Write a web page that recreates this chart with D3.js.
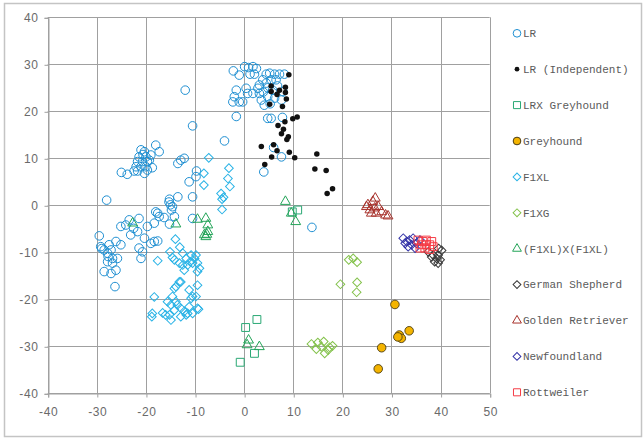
<!DOCTYPE html>
<html>
<head>
<meta charset="utf-8">
<script src="https://cdn.jsdelivr.net/npm/d3@7"></script>
<style>
  body { margin: 0; background: #fff; }
  svg { display: block; }
</style>
</head>
<body>
<div id="chart"></div>
<script>
// one array per series, [x, y]
var lr = [
  [-2.2,28.6],[-1.0,27.7],[0.1,29.5],[0.9,29.3],[1.8,29.5],[2.5,29.1],[1.2,27.9],[2.1,27.9],
  [4.5,27.9],[5.2,28.1],[6.2,27.9],[7.2,27.9],[8.2,27.9],[3.8,26.7],[3.1,25.6],[4.5,26.0],
  [5.5,26.7],[6.5,26.7],[-1.6,24.5],[0.4,24.9],[0.7,23.8],[-2.0,23.1],[-2.3,22.0],[-1.0,22.0],
  [-0.3,22.0],[1.8,23.8],[3.1,23.8],[3.5,22.4],[4.8,23.1],[6.2,22.8],[7.9,24.2],[7.6,22.4],
  [2.8,24.9],[3.9,24.1],[4.8,25.0],[5.8,24.5],[6.8,25.4],[5.3,21.6],[4.1,21.3],[-1.6,18.9],
  [4.8,18.5],[5.5,18.5],[7.8,18.7],[-4.0,13.7],[6.0,12.3],[7.6,10.3],[4.0,7.1],
  [-12.0,24.5],[-10.5,16.9],
  [-18.0,12.8],[-17.3,11.4],[-20.3,11.4],[-21.4,10.3],[-20.0,10.3],[-19.0,10.7],[-21.7,9.3],
  [-20.7,9.3],[-19.7,9.3],[-22.0,8.2],[-21.0,8.2],[-20.0,8.2],[-18.7,8.0],[-21.7,7.3],
  [-20.3,6.8],[-22.4,7.3],[-25.0,7.0],[-23.8,6.6],[-19.3,9.6],[-21.0,11.8],[-19.7,7.5],[-20.6,10.8],
  [-13.5,8.9],[-12.9,9.6],[-12.2,10.0],[-11.2,5.0],[-9.7,7.3],[-9.8,6.1],[-10.5,1.8],
  [-15.2,1.3],[-13.5,1.8],[-28.0,1.1],
  [-15.0,0.1],[-14.6,-0.3],[-15.3,0.7],[-14.8,-1.0],
  [-18.0,-1.4],[-17.3,-2.4],[-16.3,-2.6],[-14.2,-2.4],[-10.5,-2.8],[-21.4,-2.8],[-23.4,-3.1],
  [-25.1,-4.5],[-22.5,-4.9],[-24.1,-4.2],[-19.7,-4.5],[-18.3,-3.8],[-15.2,-4.0],[-29.5,-6.5],
  [-23.1,-6.3],[-21.7,-5.6],[-20.3,-7.0],[-18.3,-7.7],[-17.6,-7.6],[-19.0,-8.1],[-21.4,-9.1],
  [-20.7,-9.9],[-25.1,-8.4],[-26.1,-7.7],[-27.5,-8.4],[-29.2,-8.8],[-28.5,-9.5],[-27.8,-10.2],
  [-27.1,-9.5],[-27.7,-10.9],[-26.8,-11.3],[-25.8,-11.3],[-27.8,-12.0],[-26.8,-12.3],
  [-26.1,-13.8],[-28.5,-14.1],[-27.1,-14.5],[-26.3,-17.3],[-21.0,-11.3],[-29.0,-9.2],
  [-17.6,-1.7],
  [13.8,-4.7]
];

var lrIndependent = [
  [9.1,27.8],[5.5,25.4],[7.2,24.5],[8.4,25.1],[5.5,24.2],[6.7,23.6],[8.4,24.0],[8.6,22.6],
  [5.2,21.5],[7.8,21.0],[9.9,18.4],[10.8,18.8],[8.3,17.8],[6.9,17.0],[8.0,16.2],[7.6,15.2],
  [9.0,14.6],[8.7,14.0],[3.5,12.5],[6.0,12.9],[6.7,11.6],[9.2,11.3],[10.3,10.1],[5.6,10.3],
  [4.2,8.7],[14.8,10.9],[14.4,7.7],[16.7,7.4],[18.0,3.5],[16.9,2.5]
];

var lrxGreyhound = [
  [2.6,-24.3],[0.3,-26.0],[2.1,-31.5],[-0.8,-33.4],[10.9,-1.0],[9.8,-1.4]
];

var greyhound = [
  [30.7,-21.1],[33.6,-26.7],[31.6,-27.6],[32.0,-28.3],[31.3,-28.0],[28.0,-30.3],[27.3,-34.8]
];

var f1xl = [
  [-7.2,10.1],[-3.1,7.9],[-3.3,5.7],[-2.9,4.0],[-8.2,6.8],[-8.2,4.3],[-4.7,2.5],[-4.2,1.7],
  [-4.5,1.3],[-4.5,-0.9],
  [-14.0,-7.2],[-13.1,-8.9],[-15.1,-9.9],[-17.6,-11.8],[-14.6,-11.1],[-12.5,-10.2],[-11.8,-11.3],
  [-10.8,-10.6],[-10.1,-11.3],[-9.5,-12.3],[-10.5,-12.3],[-11.5,-12.7],[-12.5,-12.7],[-9.1,-13.4],
  [-12.2,-13.8],[-14.2,-11.6],[-13.2,-12.3],[-9.8,-10.6],[-11.0,-12.0],[-9.5,-14.1],
  [-12.9,-16.3],[-13.9,-17.3],[-9.5,-17.0],[-11.2,-18.0],[-10.5,-19.4],[-18.3,-19.5],[-14.6,-19.4],
  [-15.6,-20.5],[-13.9,-20.5],[-14.9,-21.2],[-13.6,-21.2],[-12.9,-21.9],[-14.2,-22.3],[-12.2,-22.6],
  [-16.6,-22.9],[-16.0,-23.3],[-11.2,-21.6],[-11.5,-23.0],[-18.7,-23.0],[-18.8,-23.7],[-9.5,-21.9],
  [-15.2,-23.3],[-14.9,-24.4],[-12.9,-23.7],[-10.5,-23.0],[-11.8,-23.3],[-9.3,-22.1],[-13.2,-16.3],
  [-14.2,-17.7],[-9.8,-19.4],[-10.8,-19.8]
];

var f1xg = [
  [21.3,-11.6],[22.2,-11.3],[23.0,-12.1],[19.6,-16.8],[23.0,-16.4],[22.9,-18.5],
  [13.7,-29.5],[15.0,-29.2],[16.2,-29.0],[14.7,-30.6],[15.7,-30.1],[16.4,-31.5],[17.1,-30.8],
  [18.0,-29.9],[17.4,-30.2]
];

var f1xlXf1xl = [
  [8.4,0.8],[9.6,-1.7],[10.5,-3.5],[0.9,-28.7],[0.6,-29.7],[3.1,-30.1],[-13.9,-4.0],[-22.7,-3.8],
  [-9.5,-3.0],[-7.8,-2.8],[-7.4,-4.2],[-8.1,-6.3],[-7.8,-6.7],[-7.4,-5.6],[-7.6,-6.2]
];

var germanShepherd = [
  [37.5,-9.9],[38.5,-10.6],[39.2,-11.3],[39.9,-11.6],[39.5,-12.3],[38.8,-12.0],[40.2,-9.6],
  [39.5,-10.6],[38.2,-11.0],[39.6,-9.2]
];

var goldenRetriever = [
  [25.2,0.1],[26.2,0.8],[26.7,1.5],[25.6,-1.0],[26.6,-0.6],[27.3,-0.3],[26.9,-1.7],[25.9,-1.7],
  [28.0,-1.4],[28.8,-2.1],[29.3,-2.3],[24.9,-0.3]
];

var newfoundland = [
  [32.4,-7.0],[33.1,-7.7],[33.7,-7.4],[34.4,-7.0],[32.8,-8.1],[34.1,-8.4],[35.1,-8.1],[34.8,-9.1],
  [33.4,-8.8],[35.8,-7.4]
];

var rottweiler = [
  [35.4,-7.4],[36.4,-7.7],[37.1,-7.4],[38.2,-7.7],[36.1,-8.4],[37.1,-8.4],[37.8,-8.4],[38.5,-8.8],
  [36.8,-9.1],[37.8,-9.4],[35.8,-9.1]
];

var xTicks = [-40, -30, -20, -10, 0, 10, 20, 30, 40, 50];
var yTicks = [-40, -30, -20, -10, 0, 10, 20, 30, 40];

var series = [
  { name: "LR", data: lr, shape: "circle", stroke: "#1e8fd2", fill: "none" },
  { name: "LR (Independent)", data: lrIndependent, shape: "dot", stroke: "none", fill: "#111" },
  { name: "LRX Greyhound", data: lrxGreyhound, shape: "square", stroke: "#2aa874", fill: "none" },
  { name: "Greyhound", data: greyhound, shape: "circle", stroke: "#4a3c14", fill: "#f4b400" },
  { name: "F1XL", data: f1xl, shape: "diamond", stroke: "#2ab3e6", fill: "none" },
  { name: "F1XG", data: f1xg, shape: "diamond", stroke: "#84c24c", fill: "none" },
  { name: "(F1XL)X(F1XL)", data: f1xlXf1xl, shape: "triangle", stroke: "#23a458", fill: "none" },
  { name: "German Shepherd", data: germanShepherd, shape: "diamond", stroke: "#3a3a3a", fill: "none" },
  { name: "Golden Retriever", data: goldenRetriever, shape: "triangle", stroke: "#a8322c", fill: "none" },
  { name: "Newfoundland", data: newfoundland, shape: "diamond", stroke: "#3535a8", fill: "none" },
  { name: "Rottweiler", data: rottweiler, shape: "square", stroke: "#f53c46", fill: "none" }
];

var width = 644;
var height = 440;

var x = d3.scaleLinear().domain([-40, 50]).range([47.7, 489.7]);
var y = d3.scaleLinear().domain([-40, 40]).range([393.3, 17.3]);

var svg = d3.select("#chart").append("svg")
  .attr("width", width)
  .attr("height", height);

// outer chart frame
svg.append("rect")
  .attr("x", 4.5).attr("y", 3.5)
  .attr("width", 637).attr("height", 433)
  .attr("fill", "#fff")
  .attr("stroke", "#c4c4c4")
  .attr("stroke-width", 1.5);

var grid = svg.append("g").attr("stroke", "#a0a0a0").attr("stroke-width", 1);

grid.selectAll("line.v").data(xTicks).enter().append("line")
  .attr("class", "v")
  .attr("x1", function (d) { return Math.round(x(d)) + 0.5; })
  .attr("x2", function (d) { return Math.round(x(d)) + 0.5; })
  .attr("y1", y(40)).attr("y2", y(-40));

grid.selectAll("line.h").data(yTicks).enter().append("line")
  .attr("class", "h")
  .attr("y1", function (d) { return Math.round(y(d)) + 0.5; })
  .attr("y2", function (d) { return Math.round(y(d)) + 0.5; })
  .attr("x1", x(-40)).attr("x2", x(50));

var yAxis = svg.append("g")
  .attr("transform", "translate(" + (Math.round(x(-40)) + 0.5) + ",0.5)")
  .call(d3.axisLeft(y).tickValues(yTicks).tickSize(4).tickPadding(6));

var xAxis = svg.append("g")
  .attr("transform", "translate(0.5," + (Math.round(y(-40)) + 0.5) + ")")
  .call(d3.axisBottom(x).tickValues(xTicks).tickSize(4).tickPadding(10));

[xAxis, yAxis].forEach(function (ax) {
  ax.select(".domain").attr("stroke", "#a0a0a0");
  ax.selectAll(".tick line").attr("stroke", "#a0a0a0");
  ax.selectAll("text")
    .attr("fill", "#6a6a6a")
    .style("font-family", "'Liberation Sans', Arial, sans-serif")
    .style("font-size", "12px")
    .style("letter-spacing", "0.6px")
    .text(function (d) { return d; });
});

function markPath(shape, big) {
  var k = big ? 1 : 0.8;
  if (shape == "circle") return d3.symbol().type(d3.symbolCircle).size(58 * k)();
  if (shape == "dot") return d3.symbol().type(d3.symbolCircle).size(big ? 24 : 18)();
  if (shape == "square") return d3.symbol().type(d3.symbolSquare).size(62 * k)();
  if (shape == "diamond") return d3.symbol().type(d3.symbolSquare).size(38 * k)();
  return d3.symbol().type(d3.symbolTriangle).size(42 * k)();
}

var marks = svg.append("g").attr("class", "marks");

series.forEach(function (s) {
  var path = markPath(s.shape, true);
  marks.append("g")
    .selectAll("path")
    .data(s.data)
    .enter()
    .append("path")
    .attr("d", path)
    .attr("transform", function (d) {
      return "translate(" + x(d[0]) + "," + y(d[1]) + ")" + (s.shape == "diamond" ? " rotate(45)" : "");
    })
    .attr("fill", s.fill)
    .attr("stroke", s.stroke)
    .attr("stroke-width", s.shape == "circle" && s.fill != "none" ? 0.9 : 1);
});

// legend
var legend = svg.append("g")
  .attr("font-family", "'Liberation Mono', 'DejaVu Sans Mono', monospace")
  .attr("font-size", 11);

var item = legend.selectAll("g")
  .data(series)
  .enter()
  .append("g")
  .attr("transform", function (d, i) { return "translate(517," + (33.3 + i * 35.9) + ")"; });

item.append("path")
  .attr("d", function (d) { return markPath(d.shape, false); })
  .attr("transform", function (d) { return d.shape == "diamond" ? "rotate(45)" : null; })
  .attr("fill", function (d) { return d.fill; })
  .attr("stroke", function (d) { return d.stroke; })
  .attr("stroke-width", 1);

item.append("text")
  .attr("x", 6)
  .attr("dy", "0.35em")
  .attr("fill", "#5a5a5a")
  .text(function (d) { return d.name; });
</script>
</body>
</html>
